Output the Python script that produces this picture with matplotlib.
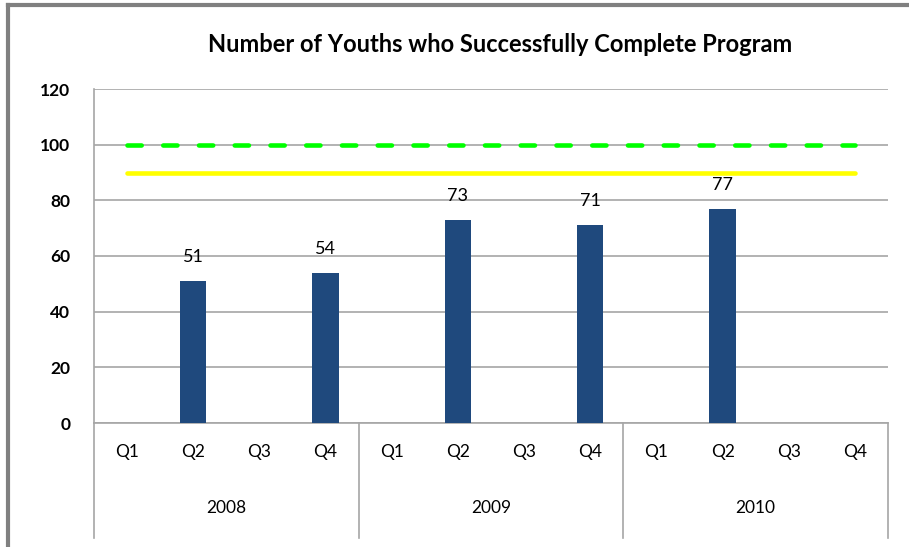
import matplotlib
matplotlib.use("Agg")
import matplotlib.pyplot as plt
import matplotlib.transforms as mtransforms
from matplotlib.lines import Line2D

plt.rcParams['font.family'] = ['Lato', 'DejaVu Sans']

title = "Number of Youths who Successfully Complete Program"
years = ["2008", "2009", "2010"]
quarters = ["Q1", "Q2", "Q3", "Q4"]
values = [None, 51, None, 54, None, 73, None, 71, None, 77, None, None]
target_green = 100
target_yellow = 90
yticks = [0, 20, 40, 60, 80, 100, 120]

fig = plt.figure(figsize=(9.09, 5.47), dpi=100)
ax = fig.add_axes([94/909, 1-423/547, (888-94)/909, (423-89)/547])

n = len(years) * len(quarters)
xs = list(range(n))
for x, v in zip(xs, values):
    if v is not None:
        ax.bar(x, v, width=0.4, color="#1f497d", zorder=3)
        ax.annotate(str(v), (x, v), xytext=(0, 24), textcoords="offset pixels",
                    ha="center", va="center", fontsize=13, color="black", zorder=4)

lw = 3.3
ax.plot([xs[0], xs[-1]], [target_green]*2, color="#00ff00", lw=lw,
        dashes=(3.1, 4.7), solid_capstyle="round", dash_capstyle="round", zorder=4)
ax.plot([xs[0], xs[-1]], [target_yellow]*2, color="#ffff00", lw=lw,
        solid_capstyle="round", zorder=4)

ax.set_xlim(-0.5, n - 0.5)
ax.set_ylim(0, 120)
ax.set_yticks(yticks)
ax.set_yticklabels([str(t) for t in yticks], fontsize=12.5, fontweight="bold")
ax.tick_params(axis="y", length=0, pad=17)
ax.set_xticks([])
ax.grid(axis="y", color="#a6a6a6", lw=1.2, zorder=0)
for s in ["top", "right"]:
    ax.spines[s].set_visible(False)
for s in ["left", "bottom"]:
    ax.spines[s].set_color("#a6a6a6")
    ax.spines[s].set_linewidth(1.2)

trans = mtransforms.blended_transform_factory(ax.transData, ax.transAxes)
for i, q in enumerate(quarters * len(years)):
    ax.text(i, -29/334, q, transform=trans, ha="center", va="center", fontsize=12.5)
for j, y in enumerate(years):
    ax.text(j*4 + 1.5, -85/334, y, transform=trans, ha="center", va="center", fontsize=12.5)
for k in range(len(years) + 1):
    ax.add_line(Line2D([k*4 - 0.5]*2, [0, -115/334], transform=trans,
                       color="#a6a6a6", lw=1.2, clip_on=False))

fig.text(500/909, 1-45/547, title, ha="center", va="center", fontsize=17, fontweight="bold")

# outer frame (top and left edges visible)
fig.add_artist(Line2D([8/909, 1], [1-5/547]*2, transform=fig.transFigure, color="#808080", lw=3))
fig.add_artist(Line2D([8/909]*2, [0, 1-5/547], transform=fig.transFigure, color="#808080", lw=3))

fig.savefig("out.png", dpi=100, facecolor="white")
